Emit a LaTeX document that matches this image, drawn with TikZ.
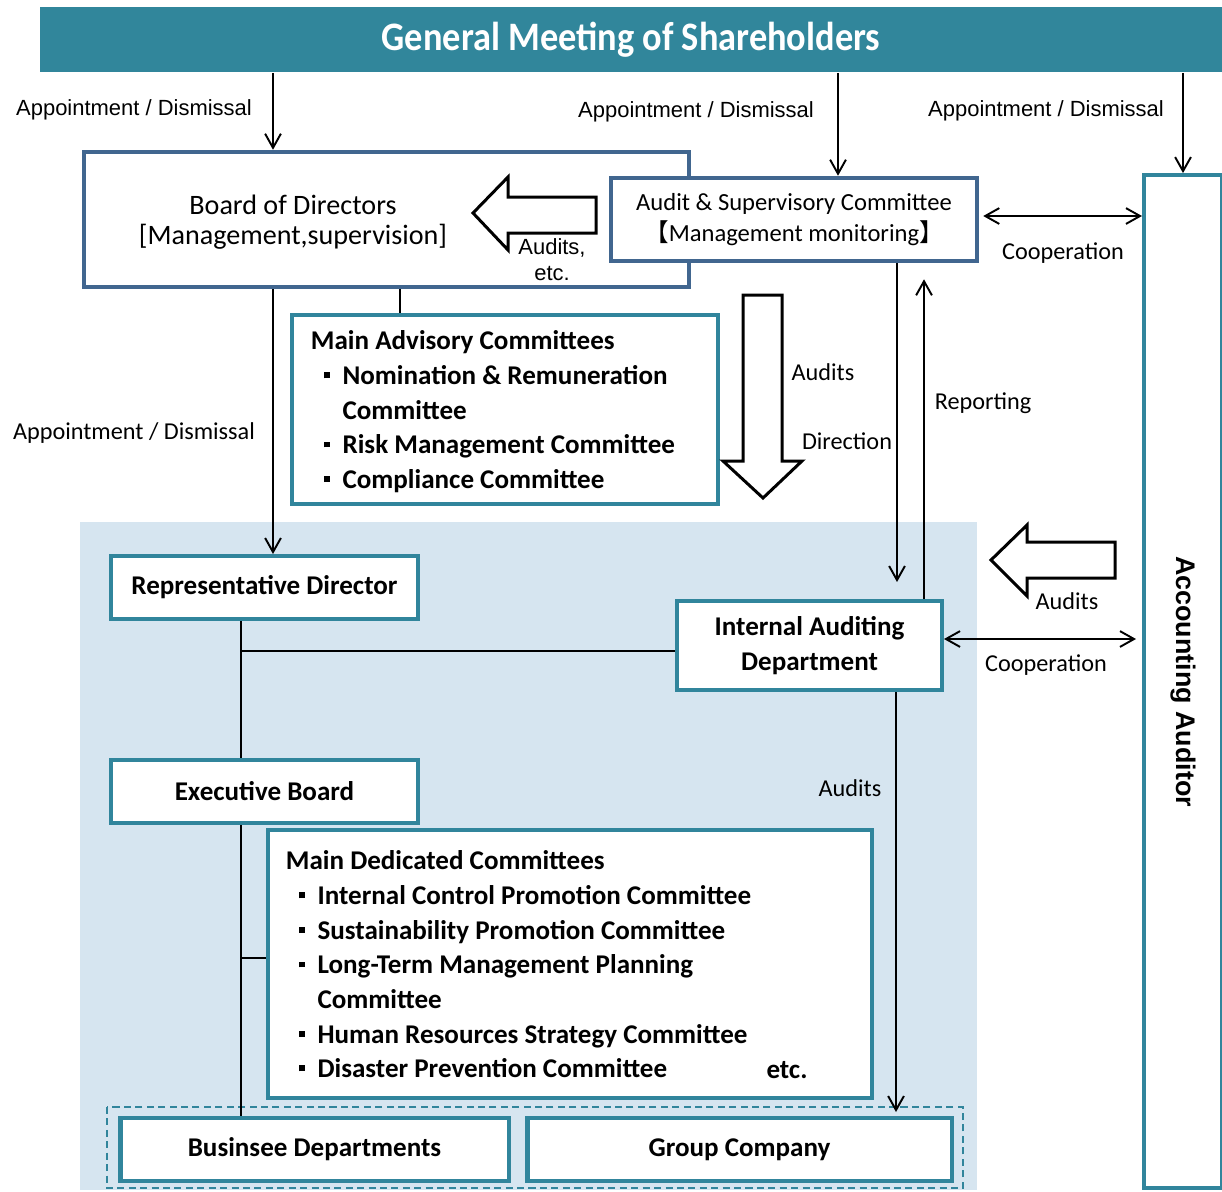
\documentclass[tikz,border=0pt]{standalone}
\usepackage{fontspec}
\setmainfont{Carlito}
\newfontfamily\arialfont{Liberation Sans}
\newfontfamily\cjk{Noto Sans CJK JP}
\newfontfamily\bannerfont[FakeStretch=0.9]{Carlito}
\usetikzlibrary{arrows.meta}

\definecolor{bannerteal}{HTML}{31869B}
\definecolor{boxteal}{HTML}{31859C}
\definecolor{boxblue}{HTML}{41668F}
\definecolor{bgblue}{HTML}{D6E5F0}

% bullet of the committee lists
\newcommand{\itm}{\makebox[18pt][c]{\raisebox{3.6pt}{\rule{3.4pt}{3.4pt}}}}
\newcommand{\itmgap}{\hspace*{18pt}}

\begin{document}
\begin{tikzpicture}[x=0.02cm, y=-0.02cm,
    line width=1.1pt,
    >={Straight Barb[length=8pt,width=9pt,line width=1.1pt]},
    tealbox/.style={draw=boxteal, line width=2.3pt, fill=white, inner sep=0pt},
    bluebox/.style={draw=boxblue, line width=2.6pt, fill=white, inner sep=0pt},
    hollow/.style={draw=black, line width=1.7pt, fill=white, line join=miter},
    lbl/.style={font=\fontsize{13.8}{16}\selectfont, inner sep=0pt},
    applbl/.style={font=\arialfont\fontsize{12.5}{14.7}\selectfont, inner sep=0pt},
    boldtxt/.style={font=\bfseries\fontsize{15.4}{19.7}\selectfont, inner sep=0pt},
  ]
  \useasboundingbox (0,0) rectangle (1222,1191);

  % executive side background
  \fill[bgblue] (80,522) rectangle (977,1190);
  \draw[boxteal, line width=1pt, dash pattern=on 4pt off 2.5pt] (107,1107) rectangle (963,1188);

  % shareholders
  \node[fill=bannerteal, minimum width=23.64cm, minimum height=1.3cm, inner sep=0pt,
        text=white, font=\bannerfont\bfseries\fontsize{23}{27}\selectfont] (gms) at (631,39.5)
        {General Meeting of Shareholders};

  % boards and committees
  \node[bluebox, minimum width=12.1cm, minimum height=2.7cm] (bod) at (386.5,219.5) {};
  \node[align=center, inner sep=0pt, font=\fontsize{16}{17}\selectfont] (bodlbl) at (293,222)
        {Board of Directors\\{}[Management,supervision]};
  \node[bluebox, minimum width=7.32cm, minimum height=1.66cm, align=center,
        font=\fontsize{14}{18}\selectfont] (ask) at (794,219.5)
        {Audit \& Supervisory Committee\\{\cjk 【}Management monitoring{\cjk 】}};
  \node[tealbox, minimum width=1.56cm, minimum height=20.26cm] (acc) at (1183,681.5) {};
  \node[rotate=-90, inner sep=0pt, font=\arialfont\bfseries\fontsize{15.3}{18}\selectfont] (acclbl)
        at (acc.center) {Accounting Auditor};

  \node[tealbox, minimum width=8.52cm, minimum height=3.78cm] (mac) at (505,409.5) {};
  \node[boldtxt, anchor=north west, align=left] (maclist) at (310,330)
        {Main Advisory Committees\\
         \itm Nomination \& Remuneration\\
         \itmgap Committee\\
         \itm Risk Management Committee\\
         \itm Compliance Committee};

  \node[tealbox, boldtxt, minimum width=6.14cm, minimum height=1.26cm] (rep) at (264.5,587.5)
        {Representative Director};
  \node[tealbox, boldtxt, minimum width=5.3cm, minimum height=1.78cm, align=center] (iad)
        at (809.5,645.5) {Internal Auditing\\Department};
  \node[tealbox, boldtxt, minimum width=6.14cm, minimum height=1.26cm] (exb) at (264.5,791.5)
        {Executive Board};

  \node[tealbox, minimum width=12.08cm, minimum height=5.36cm] (mdc) at (570,964) {};
  \node[boldtxt, anchor=north west, align=left] (mdclist) at (285,850)
        {Main Dedicated Committees\\
         \itm Internal Control Promotion Committee\\
         \itm Sustainability Promotion Committee\\
         \itm Long-Term Management Planning\\
         \itmgap Committee\\
         \itm Human Resources Strategy Committee\\
         \itm Disaster Prevention Committee};
  \node[boldtxt] (mdcetc) at (787,1070) {etc.};

  \node[tealbox, boldtxt, line width=2.8pt, minimum width=7.78cm, minimum height=1.26cm] (bus)
        at (314.5,1149.5) {Businsee Departments};
  \node[tealbox, boldtxt, line width=2.8pt, minimum width=8.5cm, minimum height=1.26cm] (grp)
        at (739.5,1149.5) {Group Company};

  % x and y of the connectors
  \coordinate (xbod) at (273,0);
  \coordinate (xask) at (838,0);
  \coordinate (xacc) at (1183,0);
  \coordinate (xmac) at (400,0);
  \coordinate (xdown) at (897,0);
  \coordinate (xup) at (924,0);
  \coordinate (xspine) at (241,0);
  \coordinate (xiad) at (896,0);
  \coordinate (ycoop) at (0,216);
  \coordinate (ycoopb) at (0,639);
  \coordinate (ybranch) at (0,651);
  \coordinate (ymdc) at (0,958);
  \coordinate (ygrp) at (0,1112);

  % appointment / dismissal
  \draw[->] (gms.south -| xbod) -- (bod.north -| xbod);
  \draw[->] (gms.south -| xask) -- (ask.north -| xask);
  \draw[->] (gms.south -| xacc) -- (acc.north -| xacc);
  \draw[->] (bod.south -| xbod) -- (rep.north -| xbod);
  \node[applbl] (app1) at (134,110) {Appointment / Dismissal};
  \node[applbl] (app2) at (696,112) {Appointment / Dismissal};
  \node[applbl] (app3) at (1046,111) {Appointment / Dismissal};
  \node[lbl] (app4) at (134,433) {Appointment / Dismissal};

  % cooperation with the accounting auditor
  \draw[<->, shorten <=0.08cm] (ask.east |- ycoop) -- (acc.west |- ycoop);
  \draw[<->, shorten >=0.12cm] (iad.east |- ycoopb) -- (acc.west |- ycoopb);
  \node[lbl] (coop1) at (1063,253) {Cooperation};
  \node[lbl] (coop2) at (1046,665) {Cooperation};

  % audits and reporting
  \draw[->, shorten >=0.34cm] (ask.south -| xdown) -- (iad.north -| xdown);
  \draw[->, shorten >=0.32cm] (iad.north -| xup) -- (ask.south -| xup);
  \draw[->] (iad.south -| xiad) -- (xiad |- ygrp);
  \node[lbl] (reporting) at (983,403) {Reporting};
  \node[lbl] (audits3) at (850,788) {Audits};

  % organisation lines
  \draw (bod.south -| xmac) -- (mac.north -| xmac);
  \draw (rep.south -| xspine) -- (exb.north -| xspine);
  \draw (xspine |- ybranch) -- (iad.west |- ybranch);
  \draw (exb.south -| xspine) -- (bus.north -| xspine);
  \draw (xspine |- ymdc) -- (mdc.west |- ymdc);

  % block arrows
  \draw[hollow] (473,213) -- (508,177) -- (508,197) -- (596,197) -- (596,233)
        -- (508,233) -- (508,250) -- cycle;
  \node[applbl, align=center] (auditsetc) at (552,260) {Audits,\\etc.};
  \draw[hollow] (743,295) -- (782,295) -- (782,461) -- (802,461) -- (763,498)
        -- (723,461) -- (743,461) -- cycle;
  \node[lbl] (audits1) at (823,372) {Audits};
  \node[lbl] (direction) at (847,441) {Direction};
  \draw[hollow] (991,560) -- (1027,525) -- (1027,542) -- (1115,542) -- (1115,578)
        -- (1027,578) -- (1027,596) -- cycle;
  \node[lbl] (audits2) at (1067,601) {Audits};
\end{tikzpicture}
\end{document}
